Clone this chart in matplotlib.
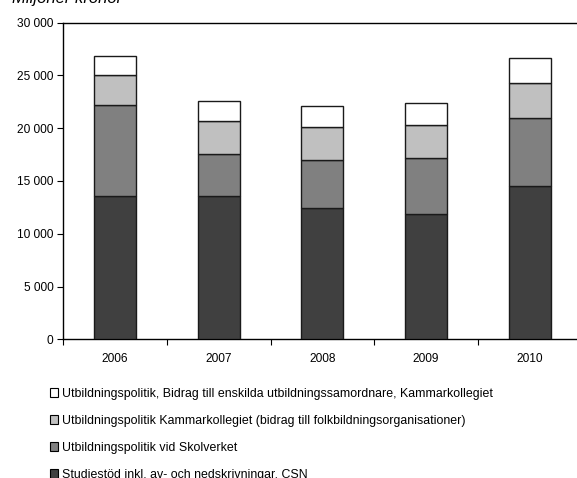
import matplotlib
matplotlib.use("Agg")
import matplotlib.pyplot as plt
from matplotlib.patches import Rectangle
import numpy as np

plt.rcParams['font.family'] = ['Liberation Sans', 'DejaVu Sans']

years = ["2006", "2007", "2008", "2009", "2010"]
csn = [13550, 13580, 12440, 11870, 14550]
skolverket = [8650, 3950, 4550, 5280, 6420]
folkbildning = [2840, 3190, 3130, 3130, 3290]
enskilda = [1830, 1860, 1990, 2140, 2400]

labels = [
    "Studiestöd inkl. av- och nedskrivningar, CSN",
    "Utbildningspolitik vid Skolverket",
    "Utbildningspolitik Kammarkollegiet (bidrag till folkbildningsorganisationer)",
    "Utbildningspolitik, Bidrag till enskilda utbildningssamordnare, Kammarkollegiet",
]
colors = ["#404040", "#808080", "#c0c0c0", "#ffffff"]
series = [csn, skolverket, folkbildning, enskilda]

fig = plt.figure(figsize=(5.77, 4.78), dpi=100)
ax = fig.add_axes([0.1097, 0.2902, 0.8983, 0.6623])

x = np.arange(len(years))
bottom = np.zeros(len(years))
for vals, c in zip(series, colors):
    ax.bar(x, vals, width=0.405, bottom=bottom, color=c, edgecolor="#1a1a1a", linewidth=1.0, zorder=3)
    bottom += np.array(vals)

ax.set_xlim(-0.5, len(years) - 0.5)
ax.set_ylim(0, 30000)
ax.set_yticks(np.arange(0, 30001, 5000))
ax.set_yticklabels([f"{v:,}".replace(",", " ") for v in range(0, 30001, 5000)], fontsize=8.6)
ax.set_xticks(np.arange(-0.5, len(years), 1.0))
ax.set_xticklabels([])
ax.set_xticks(x, minor=True)
ax.set_xticklabels(years, minor=True, fontsize=8.6)
ax.tick_params(axis="x", which="minor", length=0, pad=10)
ax.tick_params(axis="x", which="major", length=4, width=0.8, direction="out")
ax.tick_params(axis="y", length=4, width=0.8, direction="out", pad=3)
for s in ax.spines.values():
    s.set_linewidth(1.0)
    s.set_color("black")

fig.text(12 / 577, 1 - 3.5 / 478, "Miljoner kronor", fontsize=12, style="italic", va="baseline", ha="left")

handles = [Rectangle((0, 0), 1, 1, facecolor=c, edgecolor="black", linewidth=0.8) for c in colors]
leg = fig.legend(handles[::-1], labels[::-1], loc="upper left", bbox_to_anchor=(50 / 577, 1 - 388 / 478),
                 frameon=False, fontsize=8.95, handlelength=0.65, handleheight=0.65, handletextpad=0.35,
                 labelspacing=1.2, borderaxespad=0, borderpad=0)

fig.savefig("out.png", dpi=100)
